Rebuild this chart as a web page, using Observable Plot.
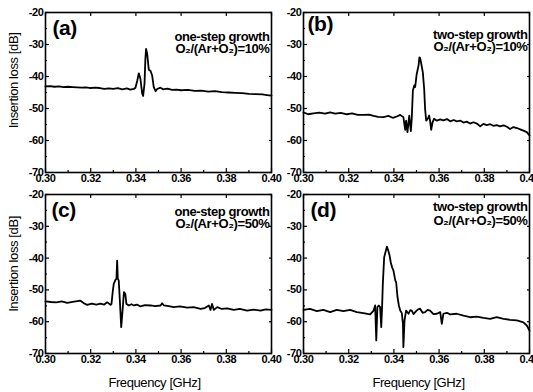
<!DOCTYPE html>
<html><head><meta charset="utf-8">
<script src="https://cdn.jsdelivr.net/npm/d3@7"></script>
<script src="https://cdn.jsdelivr.net/npm/@observablehq/plot@0.6"></script>
<style>
html,body{margin:0;padding:0;background:#fff;overflow:hidden}
#chart{position:relative;width:533px;height:392px;overflow:hidden;background:#fff}
#chart svg{position:absolute;overflow:visible;max-width:none}
</style></head><body><div id="chart"></div>
<script>
// ---- data ----
const freqA = [0.300,0.302,0.304,0.306,0.308,0.310,0.312,0.314,0.316,0.318,0.320,0.322,0.324,0.326,0.328,0.330,0.332,0.334,0.336,0.3375,0.3391,0.3398,0.3406,0.3413,0.3420,0.3428,0.3432,0.3438,0.3442,0.3445,0.3450,0.3457,0.3465,0.3472,0.3479,0.3487,0.3494,0.3509,0.352,0.354,0.356,0.358,0.360,0.363,0.366,0.369,0.372,0.375,0.378,0.381,0.384,0.387,0.390,0.393,0.396,0.398,0.400];
const lossA = [-43.1,-43.0,-43.2,-43.1,-43.3,-43.2,-43.3,-43.4,-43.5,-43.4,-43.6,-43.5,-43.6,-43.9,-43.7,-43.9,-43.6,-44.0,-43.7,-44.1,-43.9,-43.5,-41.3,-39.0,-40.7,-45.4,-46.1,-42.3,-34.5,-31.4,-32.9,-37.9,-38.3,-39.7,-43.3,-44.6,-43.9,-43.5,-44.0,-43.8,-44.2,-44.1,-44.3,-44.2,-44.5,-44.4,-44.7,-44.6,-44.9,-45.0,-45.1,-45.2,-45.4,-45.5,-45.6,-45.8,-46.0];

const freqB = [0.3000,0.3020,0.3044,0.3070,0.3095,0.3118,0.3140,0.3165,0.3192,0.3215,0.3240,0.3265,0.3290,0.3310,0.3330,0.3354,0.3375,0.3395,0.3413,0.3428,0.3442,0.3450,0.3454,0.3460,0.3468,0.3475,0.3479,0.3484,0.3490,0.3494,0.3501,0.3509,0.3513,0.3516,0.3521,0.3528,0.3534,0.3538,0.3543,0.3550,0.3556,0.3560,0.3565,0.3571,0.3578,0.3590,0.3605,0.3619,0.3635,0.3649,0.3665,0.3678,0.3695,0.3708,0.3722,0.3737,0.3752,0.3767,0.3782,0.3796,0.3811,0.3826,0.3840,0.3855,0.3870,0.3885,0.3900,0.3914,0.3929,0.3944,0.3959,0.3973,0.3988,0.4000];
const lossB = [-51.2,-51.8,-51.5,-51.3,-51.6,-51.2,-51.6,-51.4,-51.8,-51.5,-52.0,-52.0,-51.9,-52.3,-52.6,-52.7,-52.3,-52.9,-52.5,-52.0,-52.7,-56.7,-53.8,-57.4,-52.2,-57.1,-53.2,-44.4,-42.8,-43.3,-39.2,-36.6,-34.0,-34.2,-36.0,-38.7,-43.9,-50.1,-53.8,-53.2,-52.2,-53.8,-56.7,-54.3,-53.2,-53.8,-53.4,-53.7,-53.3,-54.0,-53.6,-54.0,-53.8,-54.4,-54.1,-54.7,-54.3,-54.7,-55.6,-54.8,-55.2,-54.9,-55.4,-55.2,-55.6,-55.3,-55.7,-56.4,-55.8,-56.1,-56.5,-56.9,-57.4,-58.4];

const freqC = [0.3000,0.3024,0.3048,0.3072,0.3096,0.3120,0.3155,0.3170,0.3184,0.3205,0.3225,0.3243,0.3260,0.3273,0.3288,0.3292,0.3298,0.3302,0.3310,0.3314,0.3317,0.3320,0.3324,0.3329,0.3335,0.3341,0.3347,0.3353,0.3358,0.3369,0.3380,0.3391,0.3405,0.3420,0.3440,0.3465,0.3485,0.3509,0.3516,0.3524,0.3545,0.3568,0.3595,0.3627,0.3655,0.3686,0.3705,0.3723,0.3730,0.3737,0.3745,0.3760,0.3780,0.3804,0.3833,0.3860,0.3892,0.3920,0.3951,0.3975,0.4000];
const lossC = [-53.6,-53.8,-53.9,-53.6,-54.1,-53.8,-53.4,-54.2,-54.7,-54.3,-54.6,-54.3,-54.6,-53.9,-54.7,-54.4,-50.2,-48.1,-46.8,-46.5,-40.8,-46.5,-47.0,-53.3,-61.7,-56.5,-50.7,-51.2,-54.4,-54.9,-54.5,-54.9,-54.6,-55.2,-54.8,-54.9,-55.1,-54.9,-54.2,-54.9,-55.1,-55.4,-55.2,-55.6,-55.4,-56.0,-55.7,-54.9,-56.3,-54.4,-56.3,-55.4,-56.0,-55.8,-56.3,-56.0,-56.5,-56.2,-56.5,-56.1,-56.3];

const freqD = [0.3000,0.3029,0.3059,0.3088,0.3118,0.3147,0.3177,0.3206,0.3236,0.3265,0.3295,0.3310,0.3317,0.3322,0.3327,0.3333,0.3339,0.3344,0.3348,0.3351,0.3357,0.3363,0.3369,0.3375,0.3381,0.3386,0.3392,0.3398,0.3406,0.3410,0.3416,0.3422,0.3428,0.3435,0.3440,0.3442,0.3447,0.3454,0.3465,0.3472,0.3479,0.3487,0.3494,0.3505,0.3516,0.3527,0.3538,0.3549,0.3560,0.3575,0.3590,0.3605,0.3612,0.3619,0.3634,0.3649,0.3678,0.3708,0.3737,0.3767,0.3796,0.3826,0.3855,0.3885,0.3914,0.3944,0.3973,0.3988,0.4000];
const lossD = [-56.3,-56.0,-56.7,-56.3,-57.0,-56.3,-56.7,-56.3,-57.0,-57.3,-57.7,-56.5,-54.9,-65.9,-55.4,-54.9,-55.4,-61.7,-54.9,-48.1,-39.7,-38.1,-36.4,-37.6,-39.2,-41.3,-42.9,-43.9,-47.0,-47.6,-52.3,-54.9,-56.5,-57.3,-60.7,-68.0,-59.6,-56.5,-57.5,-56.4,-56.5,-57.6,-57.0,-56.2,-55.9,-57.2,-57.0,-56.3,-56.5,-57.6,-57.5,-57.0,-60.7,-57.5,-57.2,-57.7,-57.5,-58.1,-58.6,-58.4,-58.8,-59.1,-58.6,-59.1,-59.4,-59.6,-60.2,-61.2,-62.8];

const xTicks = [0.30,0.32,0.34,0.36,0.38,0.40];
const xMinorTicks = [0.31,0.33,0.35,0.37,0.39];
const yTicks = [-70,-60,-50,-40,-30,-20];
const yMinorTicks = [-65,-55,-45,-35,-25];
const panelLabels = ["(a)","(b)","(c)","(d)"];
const growthLabels = ["one-step growth","two-step growth","one-step growth","two-step growth"];
const ratioLabels = ["O₂/(Ar+O₂)=10%","O₂/(Ar+O₂)=10%","O₂/(Ar+O₂)=50%","O₂/(Ar+O₂)=50%"];
const xTitle = "Frequency [GHz]";
const yTitle = "Insertion loss [dB]";

// ---- layout ----
const panels = [
  {f: freqA, l: lossA, left: 0,   top: 0,   h: 190, mb: 18, showX: false, showY: true,  ldx: 7, ldy: 16, g1: 24, g2: 36, tdy: -12, xdx: 0},
  {f: freqB, l: lossB, left: 258, top: 0,   h: 190, mb: 18, showX: false, showY: false, ldx: 4, ldy: 12, g1: 22, g2: 34, tdy: -12, xdx: 0},
  {f: freqC, l: lossC, left: 0,   top: 182, h: 210, mb: 39, showX: true,  showY: true,  ldx: 6, ldy: 16, g1: 17, g2: 29, tdy: -10, xdx: -4},
  {f: freqD, l: lossD, left: 258, top: 182, h: 210, mb: 39, showX: true,  showY: false, ldx: 7, ldy: 16, g1: 12, g2: 26, tdy: -10, xdx: 2}
];

const font = "'Liberation Sans', Arial, sans-serif";
const fmtX = d3.format(".2f");
const fmtY = d => d.toFixed(0);
const blank = () => "";

const chart = document.getElementById("chart");
panels.forEach((p, i) => {
  const data = p.f.map((f, j) => ({f, db: p.l[j]}));
  const marks = [
    Plot.line(data, {x: "f", y: "db", stroke: "black", strokeWidth: 1.8, strokeLinejoin: "round"}),
    // tick labels
    Plot.axisX({ticks: xTicks, tickSize: 0, tickPadding: 2, tickFormat: fmtX, fontSize: 11, fontWeight: "bold", label: null}),
    Plot.axisY({ticks: yTicks, tickSize: 0, tickPadding: 2, tickFormat: fmtY, fontSize: 11, fontWeight: "bold", label: null}),
    // inward ticks
    Plot.axisX({ticks: xTicks, tickSize: -4, tickFormat: blank, label: null, strokeWidth: 1.2}),
    Plot.axisX({ticks: xMinorTicks, tickSize: -2, tickFormat: blank, label: null, strokeWidth: 1.2}),
    Plot.axisX({anchor: "top", ticks: xTicks, tickSize: -3, tickFormat: blank, label: null, strokeWidth: 1.2}),
    Plot.axisY({ticks: yTicks, tickSize: -4, tickFormat: blank, label: null, strokeWidth: 1.2}),
    Plot.axisY({ticks: yMinorTicks, tickSize: -2, tickFormat: blank, label: null, strokeWidth: 1.2}),
    Plot.axisY({anchor: "right", ticks: yTicks, tickSize: -3, tickFormat: blank, label: null, strokeWidth: 1.2}),
    Plot.frame({stroke: "black", strokeWidth: 1.6}),
    // annotations
    Plot.text([panelLabels[i]], {text: d => d, frameAnchor: "top-left", dx: p.ldx, dy: p.ldy, textAnchor: "start", lineAnchor: "middle", fontSize: 21, fontWeight: "bold"}),
    Plot.text([growthLabels[i]], {text: d => d, frameAnchor: "top-right", dx: -2, dy: p.g1, textAnchor: "end", lineAnchor: "middle", fontSize: 13, fontWeight: "bold"}),
    Plot.text([ratioLabels[i]], {text: d => d, frameAnchor: "top-right", dx: -2, dy: p.g2, textAnchor: "end", lineAnchor: "middle", fontSize: 13, fontWeight: "bold"})
  ];
  if (p.showY) marks.push(Plot.text([yTitle], {text: d => d, frameAnchor: "left", rotate: -90, dx: -32, dy: p.tdy, textAnchor: "middle", lineAnchor: "middle", fontSize: 13}));
  if (p.showX) marks.push(Plot.text([xTitle], {text: d => d, frameAnchor: "bottom", dx: p.xdx, dy: 29, textAnchor: "middle", lineAnchor: "middle", fontSize: 13}));
  const svg = Plot.plot({
    width: 275, height: p.h,
    marginLeft: 45, marginRight: 4, marginTop: 12, marginBottom: p.mb,
    x: {domain: [0.30, 0.40], label: null},
    y: {domain: [-70, -20], label: null},
    style: {fontFamily: font, color: "black", background: "transparent", overflow: "visible"},
    marks
  });
  svg.style.left = p.left + "px";
  svg.style.top = p.top + "px";
  svg.style.letterSpacing = "-0.4px";
  chart.appendChild(svg);
});
</script></body></html>
